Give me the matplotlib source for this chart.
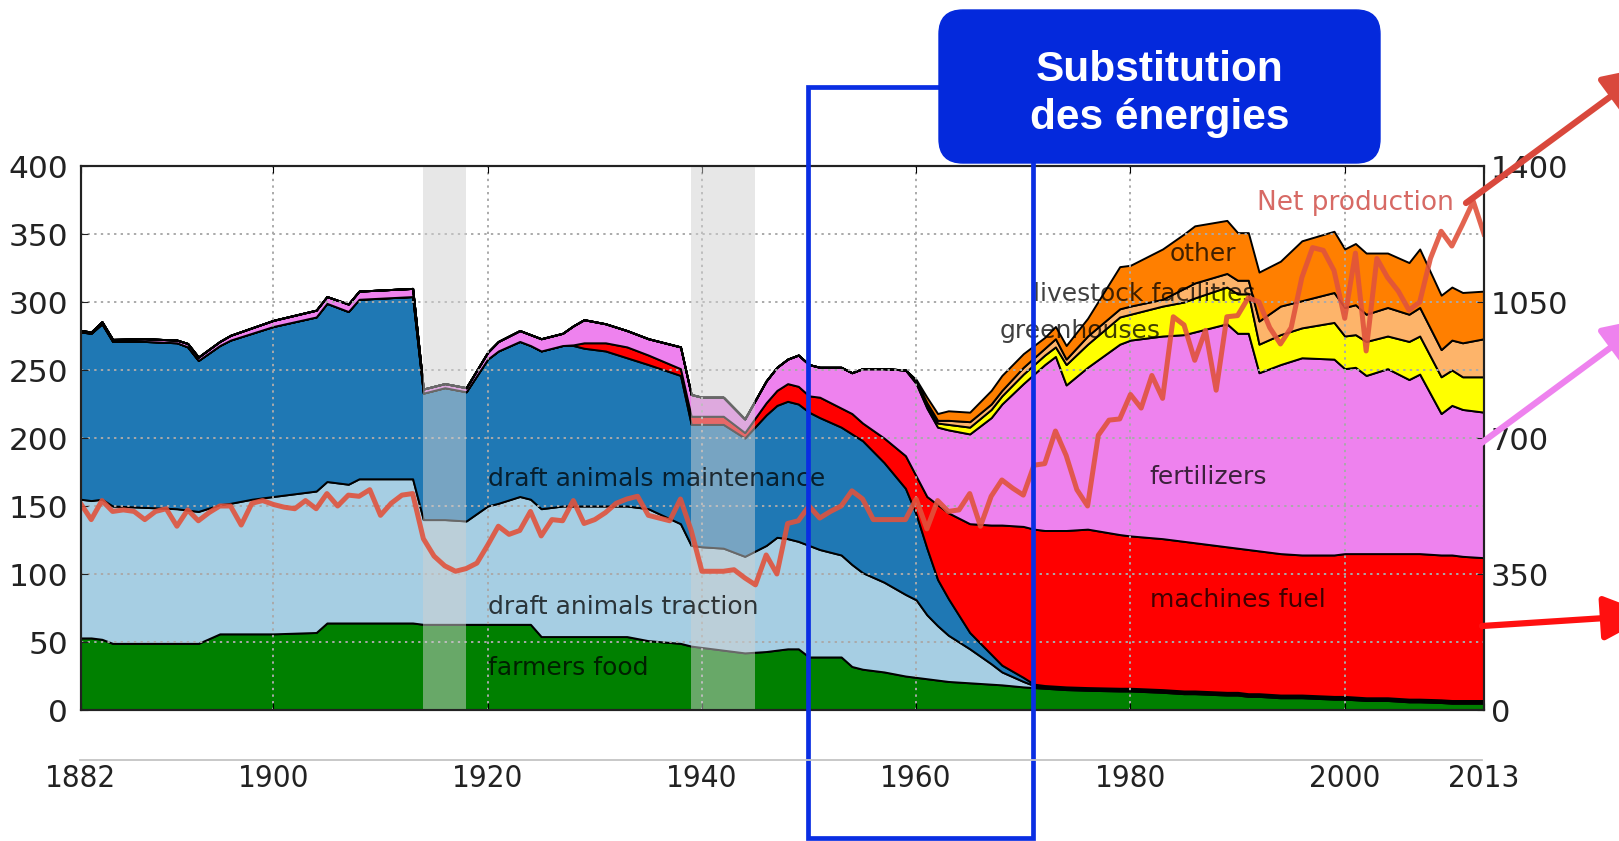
import matplotlib
matplotlib.use('Agg')
import matplotlib.pyplot as plt
from matplotlib.patches import Rectangle, FancyBboxPatch, FancyArrowPatch
from matplotlib.lines import Line2D
from matplotlib import font_manager

# ---------------- data ----------------
years_stack = [1882, 1883, 1884, 1885, 1888, 1891, 1892, 1893, 1895, 1896,
               1898, 1900, 1904, 1905, 1907, 1908, 1913, 1914, 1916, 1918,
               1920, 1921, 1923, 1924, 1925, 1927, 1928, 1929, 1931, 1933,
               1935, 1938, 1939, 1940, 1942, 1944, 1946, 1947, 1948, 1949,
               1950, 1951, 1953, 1954, 1955, 1957, 1959, 1960, 1961, 1962,
               1963, 1965, 1967, 1968, 1970, 1971, 1972, 1973, 1974, 1976,
               1979, 1980, 1983, 1985, 1986, 1989, 1990, 1991, 1992, 1994,
               1996, 1999, 2000, 2001, 2002, 2004, 2006, 2007, 2009, 2010,
               2011, 2013]

farmers_food = [53, 53, 52, 49, 49, 49, 49, 49, 56, 56,
                56, 56, 57, 64, 64, 64, 64, 63, 63, 63,
                63, 63, 63, 63, 54, 54, 54, 54, 54, 54,
                51, 49, 47, 46, 44, 42, 43, 44, 45, 45,
                39, 39, 39, 32, 30, 28, 25, 24, 23, 22,
                21, 20, 19, 18.5, 17, 16.5, 16, 15.5, 15, 14.5,
                14, 14, 13, 12, 12, 11, 11, 10, 10, 9,
                9, 8, 8, 7.5, 7, 7, 6, 6, 5.5, 5,
                5, 5]

draft_traction = [102, 101, 103, 101, 100, 99, 98, 97, 95, 96,
                  99, 101, 104, 104, 102, 106, 106, 77, 77, 76,
                  87, 89, 94, 92, 94, 96, 96, 96, 96, 96,
                  97, 88, 74, 74, 75, 71, 78, 83, 81, 79,
                  82, 79, 75, 75, 71, 66, 60, 57, 47, 40,
                  34, 25, 15, 9.5, 4, 1.5, 1, 1, 1, 1,
                  1, 1, 1, 1, 1, 1, 1, 1, 1, 1,
                  1, 1, 1, 1, 1, 1, 1, 1, 1, 1,
                  1, 1]

draft_maintenance = [123, 123, 129, 121, 122, 122, 120, 111, 117, 120,
                     122, 125, 128, 131, 127, 132, 134, 93, 97, 95,
                     108, 112, 114, 113, 116, 118, 118, 116, 114, 109,
                     106, 109, 89, 90, 91, 87, 96, 97, 101, 101,
                     98, 97, 94, 96, 97, 88, 78, 63, 49, 34,
                     27, 12, 7, 5, 3, 1, 1, 1, 1, 1,
                     1, 1, 1, 1, 1, 1, 1, 1, 1, 1,
                     1, 1, 1, 1, 1, 1, 1, 1, 1, 1,
                     1, 1]

machines_fuel = [0, 0, 0, 0, 0, 0, 0, 0, 0, 0,
                 0, 0, 0, 0, 0, 0, 0, 0, 0, 0,
                 0, 0, 0, 0, 0, 0, 0.5, 4, 6, 8,
                 7, 5, 6, 6, 6, 4, 9, 11, 13, 13,
                 12, 15, 14, 15, 13, 18, 24, 28, 38, 55,
                 63, 80, 95, 103, 111, 114, 114, 114.5, 115, 116.5,
                 113, 112, 111, 110, 109, 107, 106, 106, 105, 104,
                 103, 104, 105, 105.5, 106, 106, 107, 107, 106.5, 107,
                 106, 105]

fertilizers = [1, 1, 1.5, 1.5, 2, 2, 2.5, 2.5, 3, 3.5,
               4, 4.5, 5, 5, 5.5, 6, 6, 3, 3, 3,
               5, 7, 8, 8, 9, 9, 14, 17, 14, 12,
               12, 16, 16, 14, 14, 10, 16, 17, 18, 23,
               23, 22, 30, 30, 40, 51, 63, 68, 65, 57,
               61, 66, 79, 89, 105, 114, 122, 128, 107, 119,
               140, 144, 149, 152, 155, 164, 158, 159, 131, 139,
               145, 144, 136, 137, 131, 136, 128, 132, 104, 110,
               108, 107]

greenhouses = [0, 0, 0, 0, 0, 0, 0, 0, 0, 0,
               0, 0, 0, 0, 0, 0, 0, 0, 0, 0,
               0, 0, 0, 0, 0, 0, 0, 0, 0, 0,
               0, 0, 0, 0, 0, 0, 0, 0, 0, 0,
               0, 0, 0, 0, 0, 0, 0, 1, 2, 3,
               4, 5, 6, 6, 7, 7, 7, 7, 15, 17,
               20, 19, 22, 24, 25, 27, 29, 29, 21, 22,
               22, 27, 24, 24, 25, 24, 28, 28, 27, 26,
               24, 26]

livestock_facilities = [0, 0, 0, 0, 0, 0, 0, 0, 0, 0,
                        0, 0, 0, 0, 0, 0, 0, 0, 0, 0,
                        0, 0, 0, 0, 0, 0, 0, 0, 0, 0,
                        0, 0, 0, 0, 0, 0, 0, 0, 0, 0,
                        0, 0, 0, 0, 0, 0, 0, 1, 2, 2,
                        3, 4, 4, 4, 5, 5, 5, 6, 4, 6,
                        6, 6, 5, 10, 11, 10, 10, 10, 17, 21,
                        20, 22, 21, 22, 20, 21, 20, 21, 20, 22,
                        25, 28]

other = [0, 0, 0, 0, 0, 0, 0, 0, 0, 0,
         0, 0, 0, 0, 0, 0, 0, 0, 0, 0,
         0, 0, 0, 0, 0, 0, 0, 0, 0, 0,
         0, 0, 0, 0, 0, 0, 0, 0, 0, 0,
         0, 0, 0, 0, 0, 0, 0, 1, 4, 5,
         7, 7, 10, 11, 10, 9, 8, 9, 10, 13,
         31, 30, 37, 40, 42, 39, 35, 35, 36, 33,
         44, 45, 43, 45, 45, 40, 38, 43, 40, 39,
         37, 35]

years_net = list(range(1882, 2014))
net_production = [532, 490, 539, 511, 515, 511, 490, 511, 518, 473,
                  515, 487, 508, 525, 525, 476, 532, 539, 529, 522,
                  518, 539, 518, 557, 525, 553, 550, 567, 501, 532,
                  553, 557, 441, 396, 371, 357, 364, 378, 424, 473,
                  452, 462, 511, 448, 490, 487, 539, 480, 490, 508,
                  532, 543, 550, 501, 494, 487, 543, 462, 357, 357,
                  357, 361, 340, 322, 399, 350, 480, 487, 525, 494,
                  511, 525, 564, 543, 490, 490, 490, 490, 543, 466,
                  539, 511, 515, 557, 473, 550, 592, 571, 553, 630,
                  634, 718, 655, 567, 525, 707, 746, 749, 812, 777,
                  861, 802, 1012, 991, 900, 977, 823, 1012, 1015, 1061,
                  1050, 984, 942, 984, 1113, 1190, 1183, 1131, 1008, 1176,
                  924, 1162, 1113, 1078, 1029, 1050, 1162, 1232, 1194, 1250,
                  1309, 1225]

layer_names = ['farmers food', 'draft animals traction', 'draft animals maintenance',
               'machines fuel', 'fertilizers', 'greenhouses', 'livestock facilities', 'other']
layer_colors = ['#008000', '#a6cee3', '#1f78b4', '#ff0000', '#ee82ee',
                '#ffff00', '#fdb46a', '#ff7f00']

war_periods = [(1914, 1918), (1939, 1945)]
x_ticks = [1882, 1900, 1920, 1940, 1960, 1980, 2000, 2013]
left_ticks = [0, 50, 100, 150, 200, 250, 300, 350, 400]
right_ticks = [0, 350, 700, 1050, 1400]

# labels: (text, x-year, y-value)
area_labels = [('draft animals maintenance', 1920, 170),
               ('draft animals traction', 1920, 76),
               ('farmers food', 1920, 31),
               ('fertilizers', 1981.8, 171),
               ('machines fuel', 1981.8, 81),
               ('other', 1983.7, 335),
               ('livestock facilities', 1970.9, 306),
               ('greenhouses', 1967.8, 279)]

# ---------------- fonts ----------------
ttf = font_manager.fontManager.ttflist
names = {f.name for f in ttf}
box_family = 'Liberation Sans' if 'Liberation Sans' in names else 'DejaVu Sans'
cond = [f for f in ttf if f.name == 'DejaVu Sans' and 'condensed' in str(f.stretch)
        and f.weight in (400, 'normal') and f.style == 'normal']
if cond:
    xtick_fp = font_manager.FontProperties(fname=cond[0].fname, size=22.5)
elif 'Liberation Sans Narrow' in names:
    xtick_fp = font_manager.FontProperties(family='Liberation Sans Narrow', size=24)
else:
    xtick_fp = font_manager.FontProperties(family='Liberation Sans', size=22)

# ---------------- figure ----------------
W, H = 1619, 841
fig = plt.figure(figsize=(W / 100, H / 100), dpi=100)
fig.patch.set_facecolor('white')

ax = fig.add_axes([80.5 / W, 1 - 710 / H, (1484 - 80.5) / W, (710 - 166) / H])
ax.stackplot(years_stack, farmers_food, draft_traction, draft_maintenance,
             machines_fuel, fertilizers, greenhouses, livestock_facilities, other,
             colors=layer_colors, edgecolor='black', linewidth=1.4, labels=layer_names)

for a, b in war_periods:
    ax.axvspan(a, b, color='#d0d0d0', alpha=0.5, lw=0, zorder=3)

ax.set_xlim(1882, 2013)
ax.set_ylim(0, 400)
ax.set_yticks(left_ticks)
ax.set_xticks(x_ticks)
ax.set_axisbelow(False)
ax.grid(True, color='#aaaaaa', linestyle=(0, (1.2, 2.2)), linewidth=1.4)
ax.tick_params(axis='y', labelsize=22.5, direction='in', length=5, pad=9, colors='#222222')
ax.tick_params(axis='x', direction='in', length=5, top=True, pad=39)
for lab in ax.get_xticklabels():
    lab.set_fontproperties(xtick_fp)
    lab.set_color('#222222')
for s in ax.spines.values():
    s.set_linewidth(1.5)
    s.set_color('#222222')

for txt, xv, yv in area_labels:
    ax.text(xv, yv, txt, fontsize=18, color='black', alpha=0.75,
            ha='left', va='center', zorder=4)
ax.text(1991.8, 372.5, 'Net production', fontsize=19, color='#d0504a', alpha=0.85,
        ha='left', va='center', zorder=4)

ax2 = ax.twinx()
ax2.plot(years_net, net_production, color='#e0533d', lw=3.6, alpha=0.9,
         solid_joinstyle='round')
ax2.set_ylim(0, 1400)
ax2.set_yticks(right_ticks)
ax2.tick_params(axis='y', labelsize=22, direction='in', length=5, pad=5, colors='#222222')
for s in ax2.spines.values():
    s.set_linewidth(1.5)
    s.set_color('#222222')

# ---------------- overlay annotations (pixel coordinates) ----------------
ov = fig.add_axes([0, 0, 1, 1], zorder=10)
ov.set_xlim(0, W)
ov.set_ylim(H, 0)
ov.axis('off')
ov.patch.set_alpha(0)

ov.add_line(Line2D([80, 1482], [760, 760], color='#c4c4c4', lw=1.3))

ov.add_patch(Rectangle((808, 87), 1033 - 808, 838 - 87, fill=False,
                       edgecolor='#0a2ee3', lw=3.4))
ov.add_patch(FancyBboxPatch((939, 10), 1380 - 939, 163 - 10,
                            boxstyle='round,pad=0,rounding_size=24',
                            facecolor='#0429dc', edgecolor='#0429dc', lw=1))
ov.text(1160, 81, 'Substitution', fontsize=30.5, fontweight='bold', color='white',
        family=box_family, ha='center', va='baseline')
ov.text(1160, 129, 'des énergies', fontsize=30.5, fontweight='bold', color='white',
        family=box_family, ha='center', va='baseline')

arrows = [((1466, 203), (1652, 66), '#d9483c'),
          ((1476, 447), (1652, 317), '#ee82ee'),
          ((1482, 626), (1652, 615), '#ff1010')]
for p0, p1, c in arrows:
    ov.add_patch(FancyArrowPatch(p0, p1, arrowstyle='-|>,head_length=1.2,head_width=0.55',
                                 mutation_scale=25, lw=4.5, color=c,
                                 shrinkA=0, shrinkB=0, clip_on=False))

fig.savefig('out.png', dpi=100)
